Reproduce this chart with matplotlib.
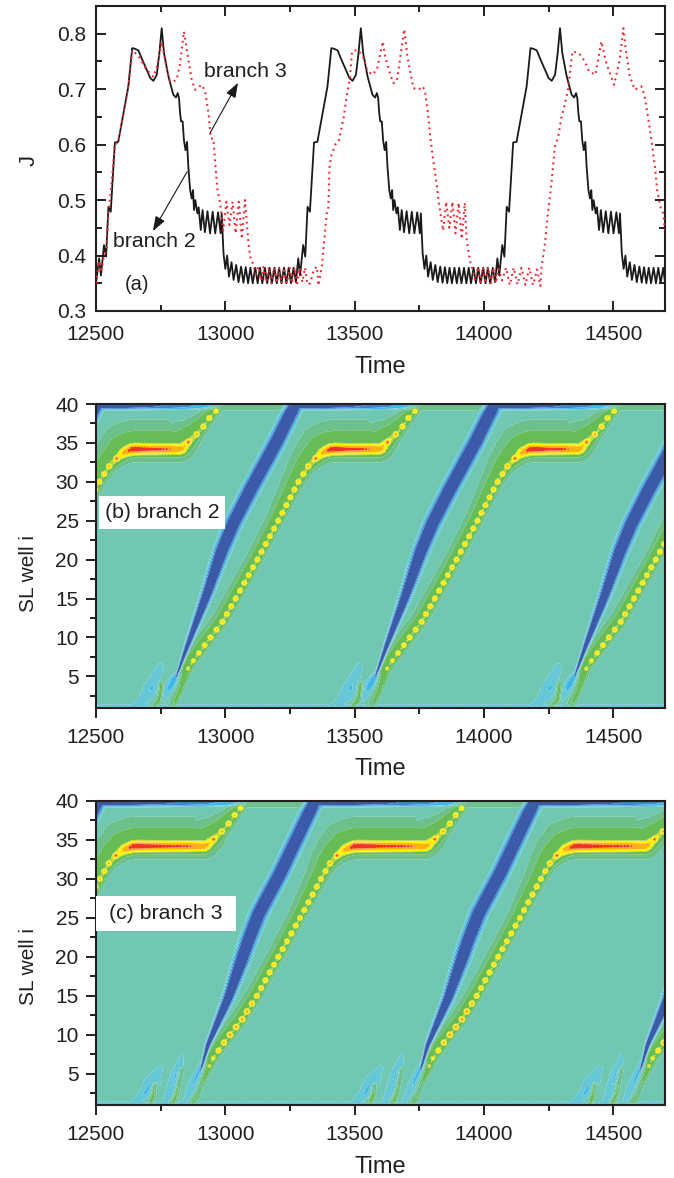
import numpy as np
import matplotlib
matplotlib.use('Agg')
import matplotlib.pyplot as plt
from matplotlib.patches import Rectangle
from matplotlib.ticker import MultipleLocator

plt.rcParams['font.family'] = ['Liberation Sans', 'DejaVu Sans']
plt.rcParams['mathtext.default'] = 'regular'

# ==========================================
# 1. PANEL (a): CURRENT TRACES, (time, J)
# ==========================================
black_1 = [(12500,.35),(12512,.395),(12519,.364),(12531,.419),(12539,.398),(12548,.488),(12557,.479),(12573,.604),
           (12586,.605),(12625,.705),(12640,.774),(12650,.773),(12664,.77),(12680,.752),(12696,.735),(12710,.72),(12722,.715),
           (12735,.726),(12745,.765),(12754,.81),(12763,.765),(12780,.723),(12799,.69),(12809,.685),(12816,.693),
           (12821,.684),(12825,.657),(12829,.642),(12835,.642),(12840,.608),(12846,.59),(12852,.605),(12857,.56),
           (12864,.518),(12870,.503),(12875,.518),(12879,.482),(12884,.5),(12892,.476),(12897,.487),(12905,.446),
           (12912,.482),(12921,.442),(12931,.48),(12941,.44),(12951,.479),(12961,.44),(12972,.478),(12982,.44),
           (12986,.476),(12990,.433),(12993,.404),(13000,.376),(13007,.40),(13014,.362),(13024,.388),(13032,.356),
           (13042,.383),(13051,.352),(13061,.380),(13070,.351),(13079,.379),(13088,.350),(13097,.378),(13106,.350),
           (13116,.378),(13125,.350),(13134,.378),(13143,.350),(13153,.378),(13162,.350),(13171,.378),(13180,.350),
           (13190,.378),(13199,.350),(13208,.378),(13217,.350),(13227,.378),(13236,.350),(13245,.378),(13254,.350),
           (13264,.378),(13273,.352)]
black_2 = [(13282,.395),(13289,.364),(13301,.419),(13309,.398),(13318,.488),(13327,.479),(13343,.604),(13356,.605),
           (13395,.705),(13410,.774),(13420,.773),(13434,.77),(13450,.752),(13466,.735),(13480,.72),(13492,.715),(13505,.726),
           (13515,.765),(13524,.81),(13533,.765),(13550,.723),(13569,.69),(13579,.685),(13586,.693),(13591,.684),
           (13595,.657),(13599,.642),(13605,.642),(13610,.608),(13616,.59),(13622,.605),(13627,.56),(13634,.518),
           (13640,.503),(13645,.518),(13649,.482),(13654,.5),(13662,.476),(13667,.487),(13675,.446),(13682,.482),
           (13691,.442),(13701,.48),(13711,.44),(13721,.479),(13731,.44),(13742,.478),(13752,.44),(13756,.476),
           (13760,.433),(13763,.404),(13770,.376),(13777,.40),(13784,.362),(13794,.388),(13802,.356),(13812,.383),
           (13821,.352),(13831,.380),(13840,.351),(13849,.379),(13858,.350),(13867,.378),(13876,.350),(13886,.378),
           (13895,.350),(13904,.378),(13913,.350),(13923,.378),(13932,.350),(13941,.378),(13950,.350),(13960,.378),
           (13969,.350),(13978,.378),(13987,.350),(13997,.378),(14006,.350),(14015,.378),(14024,.350),(14034,.378),
           (14043,.352)]
black_3 = [(14052,.395),(14059,.364),(14071,.419),(14079,.398),(14088,.488),(14097,.479),(14113,.604),(14126,.605),
           (14165,.705),(14180,.774),(14190,.773),(14204,.77),(14220,.752),(14236,.735),(14250,.72),(14262,.715),(14275,.726),
           (14285,.765),(14294,.81),(14303,.765),(14320,.723),(14339,.69),(14349,.685),(14356,.693),(14361,.684),
           (14365,.657),(14369,.642),(14375,.642),(14380,.608),(14386,.59),(14392,.605),(14397,.56),(14404,.518),
           (14410,.503),(14415,.518),(14419,.482),(14424,.5),(14432,.476),(14437,.487),(14445,.446),(14452,.482),
           (14461,.442),(14471,.48),(14481,.44),(14491,.479),(14501,.44),(14512,.478),(14522,.44),(14526,.476),
           (14530,.433),(14533,.404),(14540,.376),(14547,.40),(14554,.362),(14564,.388),(14572,.356),(14582,.383),
           (14591,.352),(14601,.380),(14610,.351),(14619,.379),(14628,.350),(14637,.378),(14646,.350),(14656,.378),
           (14665,.350),(14674,.378),(14683,.350),(14693,.378),(14700,.352)]

red_1 = [(12500,.35),(12512,.39),(12520,.37),(12531,.40),(12540,.41),(12548,.475),(12560,.53),(12573,.60),(12586,.605),
         (12600,.64),(12625,.705),(12640,.77),(12664,.76),(12696,.735),(12722,.722),(12735,.74),(12754,.785),(12770,.745),
         (12785,.715),(12799,.714),(12812,.717),(12825,.747),(12840,.804),(12850,.774),(12870,.717),(12883,.699),
         (12909,.708),(12922,.696),(12935,.657),(12944,.611),(12954,.611),(12961,.566),(12969,.521),(12980,.494),
         (12992,.445),(13004,.497),(13016,.455),(13028,.497),(13040,.44),(13052,.497),(13064,.43),(13076,.50),
         (13089,.425),(13096,.398),(13106,.386),(13118,.367),(13128,.380),(13138,.355),(13148,.379),(13158,.352),
         (13168,.379),(13178,.350),(13188,.378),(13198,.350),(13208,.378),(13218,.350),(13228,.378),(13238,.350),
         (13248,.378),(13258,.350),(13268,.378),(13278,.350),(13288,.378),(13298,.352),(13308,.378),(13318,.348),
         (13328,.35),(13342,.375),(13354,.38),(13360,.346),(13373,.38),(13380,.416),(13392,.476),(13398,.482)]
red_2 = [(13403,.56),(13410,.58),(13425,.6),(13438,.605),(13451,.635),(13458,.65),(13470,.69),(13481,.717),(13490,.768),
         (13503,.77),(13515,.77),(13535,.756),(13548,.735),(13567,.726),(13586,.735),(13609,.786),(13618,.759),
         (13638,.726),(13650,.711),(13663,.714),(13676,.756),(13692,.808),(13704,.759),(13727,.702),(13747,.699),
         (13764,.705),(13773,.693),(13785,.651),(13792,.614),(13804,.572),(13817,.53),(13824,.5),(13830,.482),
         (13842,.445),(13854,.497),(13866,.45),(13878,.497),(13890,.44),(13902,.495),(13914,.43),(13926,.495),
         (13933,.428),(13946,.39),(13956,.375),(13966,.355),(13976,.379),(13986,.352),(13996,.379),(14006,.350),
         (14016,.378),(14026,.350),(14036,.378),(14046,.350),(14056,.376),(14070,.355),(14085,.378),(14100,.347),
         (14115,.378),(14130,.348),(14145,.378),(14160,.347),(14175,.378),(14190,.347),(14205,.375),(14218,.345),
         (14223,.38)]
red_3 = [(14235,.419),(14248,.479),(14261,.53),(14274,.596),(14287,.614),(14299,.648),(14312,.672),(14325,.699),
         (14342,.768),(14368,.765),(14390,.75),(14406,.732),(14431,.726),(14454,.786),(14473,.747),(14503,.708),
         (14525,.753),(14539,.81),(14551,.762),(14564,.723),(14583,.699),(14609,.705),(14620,.69),(14635,.648),
         (14648,.606),(14661,.56),(14670,.518),(14677,.5),(14684,.485),(14693,.476),(14700,.446)]

# ==========================================
# 2. PANELS (b), (c): FRONT PATHS
# ==========================================
well_path = [1, 3.5, 6.1, 7, 9, 12, 15, 20, 25, 30, 32, 33, 33.8, 34.2, 34.2, 34.2, 34.2, 35.1, 36.1, 37.1, 38.2, 39.1]
b_front_t = [12798, 12830, 12857, 12876, 12920, 12989, 13040, 13124, 13205, 13283, 13321, 13350,
             13380, 13412, 13480, 13540, 13600, 13627, 13659, 13685, 13708, 13734]
c_front_t = [12877, 12905, 12940, 12953, 12995, 13065, 13122, 13205, 13289, 13370, 13405, 13432,
             13465, 13502, 13617, 13707, 13778, 13810, 13842, 13868, 13891, 13914]
b_shift = [-770, 0, 770, 1540]
c_shift = [-855, 0, 850, 1700]

core_amp = [.2, .22, .36, .38, .38, .38, .38, .38, .38, .38, .42, .52, .8, 1.06, .96, .93, .84, .55, .42, .38, .38, .38]
core_w = [3, 3, 3, 3, 3, 3, 3, 3, 3, 3, 3.5, 4.5, 6, 6, 6, 6, 6, 5, 3.5, 3, 3, 3]
halo_amp = [.18, .2, .25, .3, .3, .3, .3, .3, .3, .3, .3, .3, .3, .3, .3, .3, .3, .3, .3, .3, .28, .25]
halo_up = [5, 6, 8, 8.5, 9, 9, 9, 9, 10, 13, 16, 19, 22, 22, 22, 22, 22, 19, 15, 12, 9, 7]
halo_down = [3, 3, 4, 4, 4.5, 4.5, 4.5, 4.5, 4.5, 5, 6, 8, 9, 10, 10, 10, 10, 9, 6, 5, 5, 4]

bead_wells = list(range(6, 34))
bead_amp_well = [6, 7, 8, 10, 13, 15, 25, 31, 32, 33]
b_bead_amp = [.5, .58, .66, .74, .74, .72, .72, .74, .8, .98]
c_bead_amp = [.48, .55, .72, .9, .88, .74, .72, .74, .8, .98]
tail_amp = [.98, .82, .76, .74, .7]

blue_w = [1.2, 2.5, 5, 6.6, 7, 7.2, 7.2, 7]
b_blue_t = [12812, 12851, 12928, 12985, 13030, 13096, 13199, 13285]
b_blue_i = [5.1, 8.7, 15.5, 21.0, 24.6, 28.9, 35.2, 41]
c_blue_t = [12905, 12933, 13011, 13062, 13090, 13130, 13212, 13360]
c_blue_i = [5.5, 8.7, 14.7, 19.5, 22.2, 25.6, 30.7, 41]
c_blue_shift = [-840, 0, 850, 1700]

b_top_blue = [(12500, 12964), (13285, 13734), (14055, 14504)]
b_top_green = [(12964, 13285), (13734, 14055), (14504, 14800)]
c_top_blue = [(12500, 13064), (13360, 13914), (14210, 14800)]
c_top_green = [(13064, 13360), (13914, 14210)]

# crescents near the bottom: time, well, width, amplitude
b_cres = [([12640, 12677, 12715, 12748], [1.2, 1.8, 3.5, 6.3], [3, 6, 8, 4], [-.07, -.09, -.15, -.09]),
          ([12760, 12785, 12812], [2.0, 3.5, 5.1], [3, 6, 3], [-.09, -.17, -.3])]
c_cres = [([12640, 12690, 12720, 12748], [1.2, 2.5, 4, 5.7], [3, 6, 8, 4], [-.07, -.15, -.15, -.08]),
          ([12760, 12790, 12815, 12832], [1.2, 2.5, 5, 7.4], [3, 6, 6, 2.5], [-.07, -.13, -.17, -.07]),
          ([12845, 12875, 12915], [1.5, 3, 6.5], [3, 6, 3], [-.09, -.18, -.3])]
b_streak = [([12722, 12745, 12752], [1, 2, 4])]
c_streak = [([12708, 12721, 12728], [1, 2.3, 3.6]), ([12795, 12812, 12831], [1, 2.5, 5.5])]

levels = [-2, -.5, -.3, -.14, -.05, .05, .15, .34, .45, .68, .88, 2]
colors = ['#3B5BA9', '#3F86C9', '#3FB8E8', '#66C8D6', '#70C7B2', '#6CC08C', '#66BD55',
          '#B6D433', '#FFF200', '#FBB116', '#EE3524']

# ==========================================
# 3. FIGURE
# ==========================================
W, H = 674, 1178
PX_T = 569 / 2200
PX_I = 303.5 / 39
fig = plt.figure(figsize=(W / 100, H / 100), dpi=100)


def place(x0, y0, x1, y1):
    return fig.add_axes([x0 / W, 1 - y1 / H, (x1 - x0) / W, (y1 - y0) / H])


DARK = '#231F20'
FS = 15

ax_a = place(96, 6, 665, 311)
ax_b = place(96, 404, 665, 707.5)
ax_c = place(96, 801, 665, 1105)

for name, part in (('black', [black_1, black_2, black_3]), ('red', [red_1, red_2, red_3])):
    pts = np.array(sum(part, []))
    if name == 'black':
        ax_a.plot(pts[:, 0], pts[:, 1], color='#1A1A1A', lw=1.3, zorder=2)
    else:
        ax_a.plot(pts[:, 0], pts[:, 1], color='#EE2A35', lw=1.5, linestyle=(0, (0.9, 1.9)), zorder=3)

ax_a.set_xlim(12500, 14700)
ax_a.set_ylim(0.3, 0.85)
ax_a.xaxis.set_major_locator(MultipleLocator(500))
ax_a.xaxis.set_minor_locator(MultipleLocator(250))
ax_a.yaxis.set_major_locator(MultipleLocator(0.1))
ax_a.yaxis.set_minor_locator(MultipleLocator(0.05))
ax_a.yaxis.set_major_formatter(lambda v, p: f'{v:.1f}')
ax_a.tick_params(which='both', direction='in', top=True, right=True, width=1.4, color=DARK)
ax_a.tick_params(which='major', length=7.5, labelsize=FS)
ax_a.tick_params(which='minor', length=4.5)
ax_a.tick_params(axis='x', which='major', pad=10)
ax_a.tick_params(axis='y', which='major', pad=7)

ax_a.text(12918, 0.731, 'branch 3', fontsize=FS + 0.3, va='center', color=DARK)
ax_a.text(12566, 0.426, 'branch 2', fontsize=FS + 0.3, va='center', color=DARK)
ax_a.text(12612, 0.347, '(a)', fontsize=FS - 0.5, va='center', color=DARK)
arrow = dict(arrowstyle='-|>,head_length=0.9,head_width=0.32', color='#1A1A1A', lw=0.8, shrinkA=0, shrinkB=0)
ax_a.annotate('', xy=(13049, 0.7116), xytext=(12941, 0.621), arrowprops=arrow)
ax_a.annotate('', xy=(12720, 0.444), xytext=(12852, 0.551), arrowprops=arrow)

# ------------------------------------------
# field grid
# ------------------------------------------
tg = np.linspace(12500, 14700, 569, dtype=np.float32)
ig = np.linspace(1, 40, 304, dtype=np.float32)
T, I = np.meshgrid(tg, ig)


def stroke(tt, ii, amp, w, down=None, power=2):
    # value of one ridge on the grid, from the distance to its path in pixels
    tt, ii = np.asarray(tt, float), np.asarray(ii, float)
    if tt.max() < 12400 or tt.min() > 14800:
        return np.zeros_like(T)
    x, y = tt * PX_T, ii * PX_I
    s = np.r_[0, np.cumsum(np.hypot(np.diff(x), np.diff(y)))]
    ss = np.linspace(0, s[-1], 130)
    px = np.interp(ss, s, x).astype(np.float32)
    py = np.interp(ss, s, y).astype(np.float32)
    a = np.interp(ss, s, amp)
    wu = np.interp(ss, s, w)
    gx = (T * PX_T).ravel()[:, None]
    gy = (I * PX_I).ravel()[:, None]
    d2 = (gx - px) ** 2 + (gy - py) ** 2
    k = d2.argmin(axis=1)
    d = np.sqrt(d2[np.arange(len(k)), k]).reshape(T.shape)
    k = k.reshape(T.shape)
    width = wu[k]
    if down is not None:
        wd = np.interp(ss, s, down)
        width = np.where(I > np.interp(T, tt, ii), wu[k], wd[k])
    return a[k] * np.exp(-(d / width) ** power)


def bead(t0, i0, amp, r=3.4):
    return amp * np.exp(-(((T - t0) * PX_T) ** 2 + ((I - i0) * PX_I) ** 2) / r ** 2)


def field(front_t, shifts, blue_t, blue_i, blue_shift, top_blue, top_green, cres, streak, bead_amp):
    pos = np.zeros_like(T, dtype=float)
    neg = np.zeros_like(T, dtype=float)
    front_t = np.array(front_t, float)
    rise_t, rise_i = front_t[:12], well_path[:12]
    for sh, bsh in zip(shifts, blue_shift):
        pos = np.maximum(pos, stroke(front_t + sh, well_path, halo_amp, halo_up, down=halo_down))
        pos = np.maximum(pos, stroke(front_t + sh, well_path, core_amp, core_w))
        for w_, a_ in zip(bead_wells, np.interp(bead_wells, bead_amp_well, bead_amp)):
            pos = np.maximum(pos, bead(np.interp(w_, rise_i, rise_t) + sh, w_, a_))
        for t_, i_, a_ in zip(front_t[-5:], well_path[-5:], tail_amp):
            pos = np.maximum(pos, bead(t_ + sh, i_, a_))
        neg = np.minimum(neg, stroke(np.array(blue_t) + bsh, blue_i, [-1] * len(blue_t), blue_w, power=3))
        for tc, ic, wc, ac in cres:
            neg = np.minimum(neg, stroke(np.array(tc) + sh, ic, ac, wc))
        for ts, iss in streak:
            pos = np.maximum(pos, stroke(np.array(ts) + sh, iss, [.24] * len(ts), [2.6] * len(ts)))
    for t0, t1 in top_blue:
        neg = np.minimum(neg, stroke([t0, (t0 + t1) / 2, t1], [40, 40, 40], [-1, -.55, -.16], [5, 5, 5], power=4))
    for t0, t1 in top_green:
        pos = np.maximum(pos, stroke([t0, t1], [40, 40], [.12, .12], [6.5, 6.5], power=4))
    neg = np.minimum(neg, stroke([12400, 14800], [1, 1], [-.16, -.16], [3.2, 3.2]))
    return pos + neg


Fb = field(b_front_t, b_shift, b_blue_t, b_blue_i, b_shift, b_top_blue, b_top_green, b_cres, b_streak, b_bead_amp)
Fc = field(c_front_t, c_shift, c_blue_t, c_blue_i, c_blue_shift, c_top_blue, c_top_green, c_cres, c_streak, c_bead_amp)

for ax, F in ((ax_b, Fb), (ax_c, Fc)):
    ax.contourf(T, I, F, levels=levels, colors=colors, antialiased=True)
    ax.set_xlim(12500, 14700)
    ax.set_ylim(1, 40)
    ax.xaxis.set_major_locator(MultipleLocator(500))
    ax.xaxis.set_minor_locator(MultipleLocator(250))
    ax.yaxis.set_major_locator(MultipleLocator(5))
    ax.yaxis.set_minor_locator(MultipleLocator(2.5))
    ax.set_yticks([5, 10, 15, 20, 25, 30, 35, 40])
    ax.tick_params(which='both', direction='out', width=1.4, color=DARK)
    ax.tick_params(which='major', length=7.5, labelsize=FS)
    ax.tick_params(which='minor', length=4.5)
    ax.tick_params(axis='x', which='major', pad=7)
    ax.tick_params(axis='y', which='major', pad=5)

for ax in (ax_a, ax_b, ax_c):
    for sp in ax.spines.values():
        sp.set_linewidth(1.5)
        sp.set_color(DARK)
    ax.tick_params(labelcolor=DARK)
    ax.set_xlabel('Time', fontsize=FS + 2, color=DARK)
    ax.xaxis.label.set_va('center')

ax_a.xaxis.set_label_coords(0.5, -0.184)
ax_b.xaxis.set_label_coords(0.5, -0.2026)
ax_c.xaxis.set_label_coords(0.5, -0.204)

ax_a.set_ylabel('J', fontsize=FS + 1, color=DARK)
ax_b.set_ylabel('SL well i', fontsize=FS, color=DARK)
ax_c.set_ylabel('SL well i', fontsize=FS, color=DARK)
for ax, ly in ((ax_a, 0.495), (ax_b, 0.443), (ax_c, 0.454)):
    ax.yaxis.label.set_va('center')
    ax.yaxis.set_label_coords(-0.118, ly)

# white label boxes, in figure pixels
for x0, y0, x1, y1, txt, tx in ((99, 496, 225, 529, '(b) branch 2', 105), (96, 896, 236, 931, '(c) branch 3', 109)):
    fig.add_artist(Rectangle((x0 / W, 1 - y1 / H), (x1 - x0) / W, (y1 - y0) / H, transform=fig.transFigure,
                             facecolor='white', edgecolor='none', zorder=5))
    fig.text(tx / W, 1 - (y0 + y1) / 2 / H, txt, fontsize=FS + 0.3, va='center', color=DARK, zorder=6)

fig.savefig('out.png', dpi=100)
